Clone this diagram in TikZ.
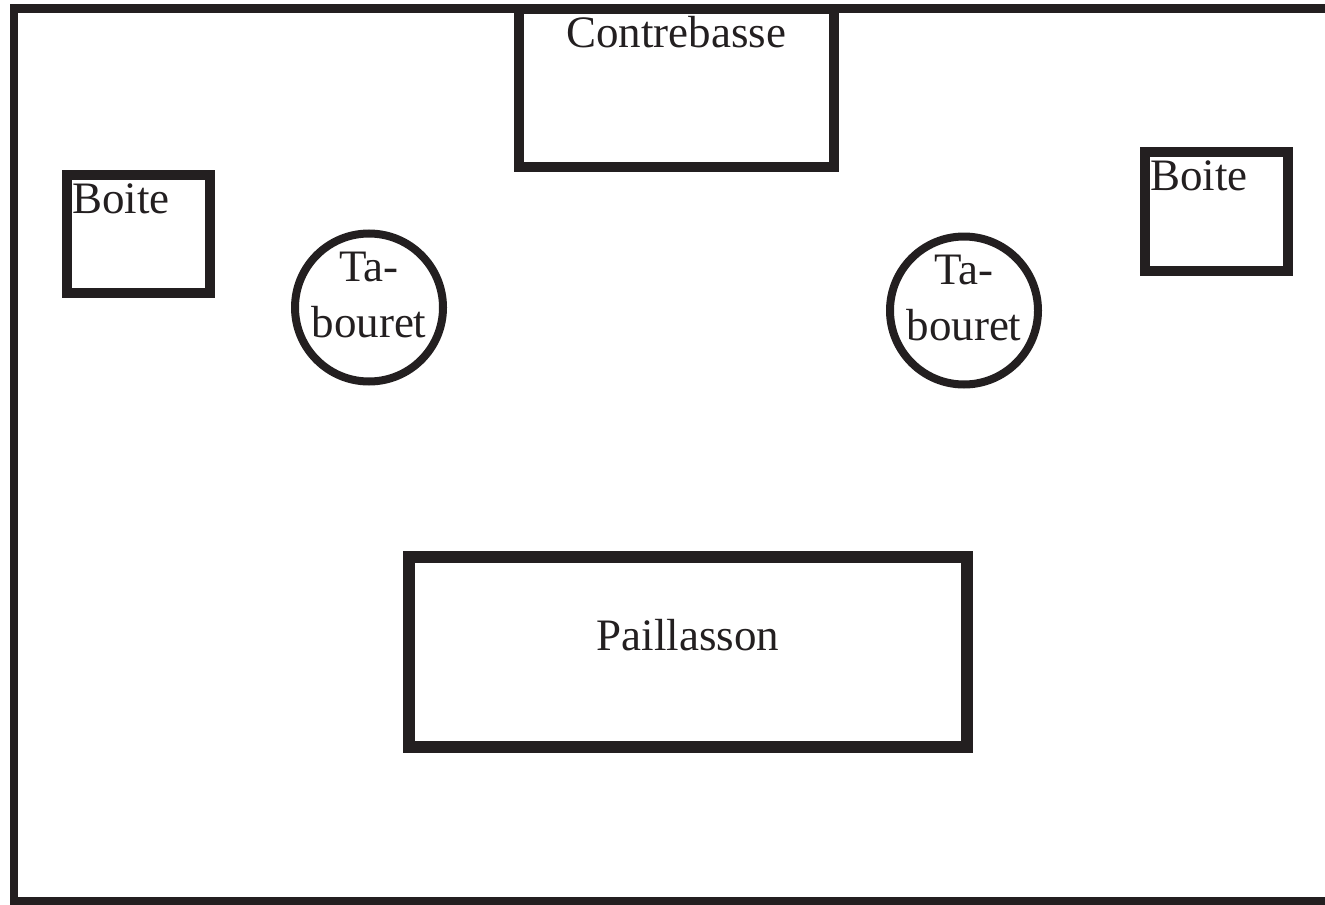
\documentclass[tikz,border=0pt]{standalone}
\usepackage{fontspec}
\setmainfont{Liberation Serif}
\usepackage{xcolor}
\usetikzlibrary{
	positioning,    % posizionamento relativo
	calc            % coordinate calcolate per le etichette
}
\definecolor{nero}{RGB}{35,31,32}

\begin{document}
\begin{tikzpicture}[
		nero,
		mobile/.style={draw, rectangle, line width=0.2cm, inner sep=0pt, outer sep=0pt},
		sgabello/.style={draw, circle, line width=0.16cm, inner sep=0pt, outer sep=0pt, minimum size=2.96cm},
		scritta/.style={inner sep=0pt, text=nero, font=\fontsize{25.6}{32.4}\selectfont}
	]
		% Definizioni per le misure della stanza
		\def\sx{0.28}    % lato sinistro
		\def\su{-0.18}   % lato superiore
		\def\sg{-18.02}  % lato inferiore
		
		% Cornice della pagina
		\useasboundingbox (0,0) rectangle (26.5,-18.1);
		
		% --- Stanza ---
		% Il lato destro esce dalla pagina
		\coordinate (angoloNE) at (27,\su);
		\coordinate (angoloNO) at (\sx,\su);
		\coordinate (angoloSO) at (\sx,\sg);
		\coordinate (angoloSE) at (27,\sg);
		\draw[line width=0.18cm] (angoloNE) -- (angoloNO) -- (angoloSO) -- (angoloSE);
		
		% --- Mobili ---
		\node[mobile, minimum width=6.29cm, minimum height=3.16cm] (contrebasse) at (13.525,-1.76) {};
		\node[mobile, minimum width=2.86cm, minimum height=2.37cm] (boiteG) at (2.76,-4.675) {};
		\node[mobile, minimum width=2.86cm, minimum height=2.37cm] (boiteD) at (24.32,-4.225) {};
		\node[mobile, line width=0.24cm, minimum width=11.16cm, minimum height=3.8cm] (paillasson) at (13.76,-13.04) {};
		
		% --- Sgabelli ---
		\node[sgabello] (tabouretG) at (7.38,-6.15) {};
		\node[sgabello] (tabouretD) at (19.28,-6.21) {};
		
		% --- Etichette ---
		\node[scritta, anchor=base] (etContrebasse) at ($(contrebasse.north)+(0,-0.78)$) {Contrebasse};
		\node[scritta, anchor=base west] (etBoiteG) at ($(boiteG.north west)+(0.11,-0.77)$) {Boite};
		\node[scritta, anchor=base west] (etBoiteD) at ($(boiteD.north west)+(0.11,-0.76)$) {Boite};
		\node[scritta, anchor=base] (etPaillasson) at ($(paillasson.center)+(0,0.04)$) {Paillasson};
		% Testo su due righe dentro gli sgabelli
		\node[scritta, align=center] (etTabouretG) at ($(tabouretG.center)+(0,0.25)$) {Ta-\\bouret};
		\node[scritta, align=center] (etTabouretD) at ($(tabouretD.center)+(0,0.25)$) {Ta-\\bouret};
	\end{tikzpicture}
\end{document}
